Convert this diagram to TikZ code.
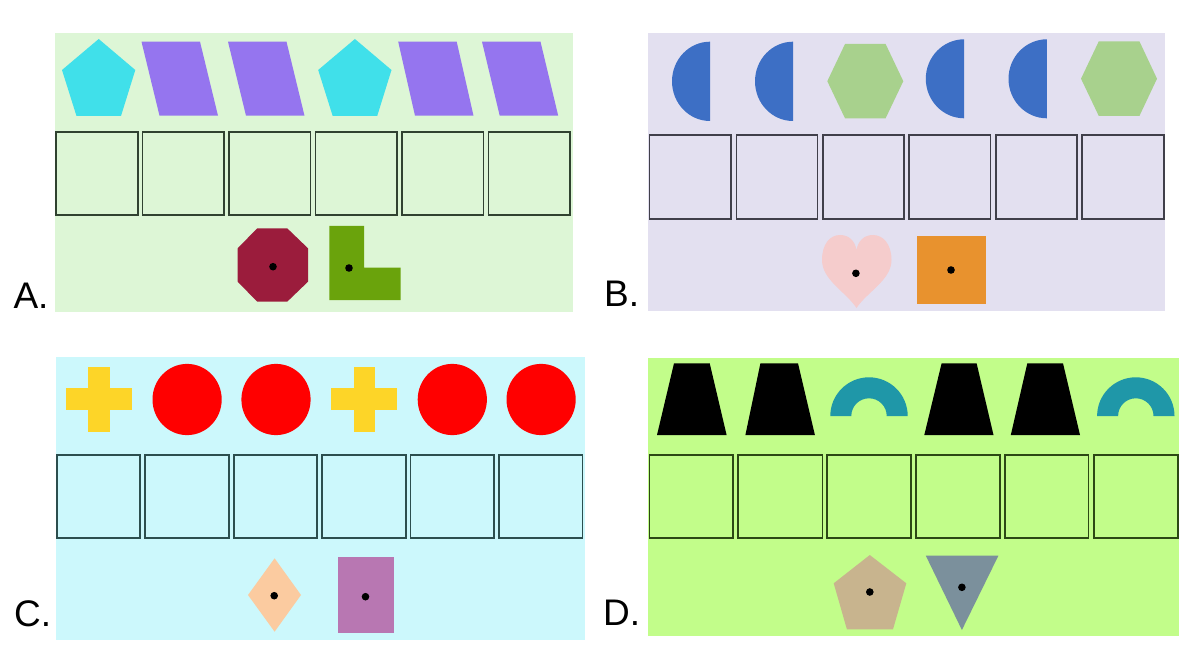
\documentclass[tikz,border=0pt]{standalone}
\usepackage{fontspec}
\setmainfont{Liberation Sans}
\definecolor{bgA}{RGB}{221,246,214}
\definecolor{bgB}{RGB}{227,224,240}
\definecolor{bgC}{RGB}{204,248,252}
\definecolor{bgD}{RGB}{194,253,138}
\definecolor{lineA}{RGB}{48,66,48}
\definecolor{lineB}{RGB}{64,63,74}
\definecolor{lineC}{RGB}{44,78,78}
\definecolor{lineD}{RGB}{44,72,20}
\definecolor{cyanP}{RGB}{64,224,234}
\definecolor{purpP}{RGB}{149,117,239}
\definecolor{octR}{RGB}{155,28,60}
\definecolor{lG}{RGB}{106,163,12}
\definecolor{blueH}{RGB}{61,111,197}
\definecolor{hexG}{RGB}{168,209,141}
\definecolor{pinkH}{RGB}{245,204,204}
\definecolor{orangeS}{RGB}{232,146,46}
\definecolor{yellowX}{RGB}{253,213,40}
\definecolor{redC}{RGB}{255,0,0}
\definecolor{peachD}{RGB}{251,203,160}
\definecolor{purpR}{RGB}{184,119,178}
\definecolor{tealA}{RGB}{31,151,168}
\definecolor{tanP}{RGB}{200,180,142}
\definecolor{slateT}{RGB}{123,144,156}
\tikzset{
  slotbox/.style={draw=#1, line width=1.7pt},
  centerdot/.style={fill=black},
  panellabel/.style={inner sep=0pt, anchor=base west, font=\fontsize{37}{40}\selectfont}
}
\begin{document}
\begin{tikzpicture}[x=1pt,y=-1pt]
\useasboundingbox (0,0) rectangle (1185,660);
\fill[white] (0,0) rectangle (1185,660);
% ---------- Panel A ----------
\fill[bgA] (55,33) rectangle (572.7,311.7);
\fill[cyanP] (98.7,39) -- (135.3,70) -- (121,116) -- (76.5,116) -- (62,70) -- cycle;
\fill[cyanP] (354.9,39) -- (391.5,70) -- (377.2,116) -- (332.7,116) -- (318.2,70) -- cycle;
\foreach \t/\b in {141.5/159.5, 228/246, 398.2/415, 482/499.7}
  \fill[purpP] (\t,41.7) -- ++(58.5,0) -- (\b+58.5,115.7) -- (\b,115.7) -- cycle;
\foreach \l/\r in {56/138, 142.6/224.2, 229/310.6, 315.5/397, 402/483.6, 488.5/570.3}
  \draw[slotbox=lineA] (\l,131.7) rectangle (\r,214.7);
\fill[octR] (257.2,228.3) -- (287.2,228.3) -- (308,248.3) -- (308,281.7) -- (287.2,301.7) -- (257.2,301.7) -- (237.7,281.7) -- (237.7,248.3) -- cycle;
\fill[lG] (329.4,226) -- (364,226) -- (364,267.7) -- (400.5,267.7) -- (400.5,300) -- (329.4,300) -- cycle;
\fill[centerdot] (273,266.7) circle (3.8);
\fill[centerdot] (349,268) circle (3.8);
\node[panellabel] (labA) at (13.3,308.3) {A.};
% ---------- Panel B ----------
\fill[bgB] (647.6,32.7) rectangle (1164.5,310.7);
\foreach \x in {710,793}
  \fill[blueH] (\x,41.7) arc[start angle=-90, end angle=-270, x radius=38, y radius=39.65] -- cycle;
\foreach \x in {964.2,1046.9}
  \fill[blueH] (\x,39.3) arc[start angle=-90, end angle=-270, x radius=38.4, y radius=39.5] -- cycle;
\fill[hexG] (845,44) -- (885.6,44) -- (903.3,81.2) -- (885.6,118.3) -- (845,118.3) -- (827.3,81.2) -- cycle;
\fill[hexG] (1098.8,41.3) -- (1139.4,41.3) -- (1157,78.7) -- (1139.4,116) -- (1098.8,116) -- (1081,78.7) -- cycle;
\foreach \l/\r in {649.5/731, 736.4/817.6, 822.8/904, 909.3/990.5, 995.8/1077.3, 1082.2/1163.8}
  \draw[slotbox=lineB] (\l,135) rectangle (\r,218.7);
\fill[pinkH] (856.5,308) .. controls (846,292) and (822,280) .. (822,260)
  .. controls (822,244) and (830,235) .. (840,235)
  .. controls (849,235) and (855,241) .. (856.5,250)
  .. controls (858,241) and (864,235) .. (873,235)
  .. controls (883,235) and (891.5,244) .. (891.5,260)
  .. controls (891.5,280) and (867,292) .. (856.5,308) -- cycle;
\fill[orangeS] (917.2,235.7) rectangle (985.6,304);
\fill[centerdot] (855.9,273.3) circle (3.8);
\fill[centerdot] (951,270) circle (3.8);
\node[panellabel] (labB) at (604,306.7) {B.};
% ---------- Panel C ----------
\fill[bgC] (55.7,357.3) rectangle (585.2,640);
\foreach \x in {65.5,330.7}{
  \fill[yellowX] (\x+22.8,366.7) rectangle (\x+44.3,432.3);
  \fill[yellowX] (\x,388.3) rectangle (\x+66.3,410);
}
\foreach \x in {187.1,276,452.3,541.1}
  \fill[redC] (\x,399.5) ellipse [x radius=34.6, y radius=35.6];
\foreach \l/\r in {56.8/140.2, 145/228.8, 233.7/317, 322.3/405.7, 410.6/494, 499.2/582.6}
  \draw[slotbox=lineC] (\l,455) rectangle (\r,538.3);
\fill[peachD] (274.6,558.3) -- (301,595) -- (274.6,631.7) -- (248,595) -- cycle;
\fill[purpR] (337.9,557) rectangle (394,633.3);
\fill[centerdot] (274.2,595.7) circle (3.8);
\fill[centerdot] (365.5,596.7) circle (3.8);
\node[panellabel] (labC) at (14,626) {C.};
% ---------- Panel D ----------
\fill[bgD] (647.6,358.3) rectangle (1178.5,635.7);
\foreach \a/\b/\c/\d in {674/709.7/657/726.6, 760.4/798/745.4/814.9, 941.6/976.6/924.3/993.5, 1027.3/1063/1010.8/1080}
  \fill[black] (\a,363.3) -- (\b,363.3) -- (\d,435) -- (\c,435) -- cycle;
\foreach \x in {869,1135.8}
  \fill[tealA] (\x-38.7,416) arc[start angle=180, end angle=360, radius=38.7]
    -- (\x+17.7,416) arc[start angle=0, end angle=-180, radius=17.7] -- cycle;
\foreach \l/\r in {649.5/733.3, 738.2/822.4, 827.3/910.8, 916/999.9, 1004.8/1088.6, 1093.9/1177.7}
  \draw[slotbox=lineD] (\l,455) rectangle (\r,538.3);
\fill[tanP] (869.8,555) -- (906.3,583.3) -- (893,629.3) -- (846.9,629.3) -- (833.7,583.3) -- cycle;
\fill[slateT] (925.8,555.7) -- (998.4,555.7) -- (961.9,630) -- cycle;
\fill[centerdot] (869.8,592) circle (3.8);
\fill[centerdot] (961.9,587.3) circle (3.8);
\node[panellabel] (labD) at (603,625) {D.};
\end{tikzpicture}
\end{document}
